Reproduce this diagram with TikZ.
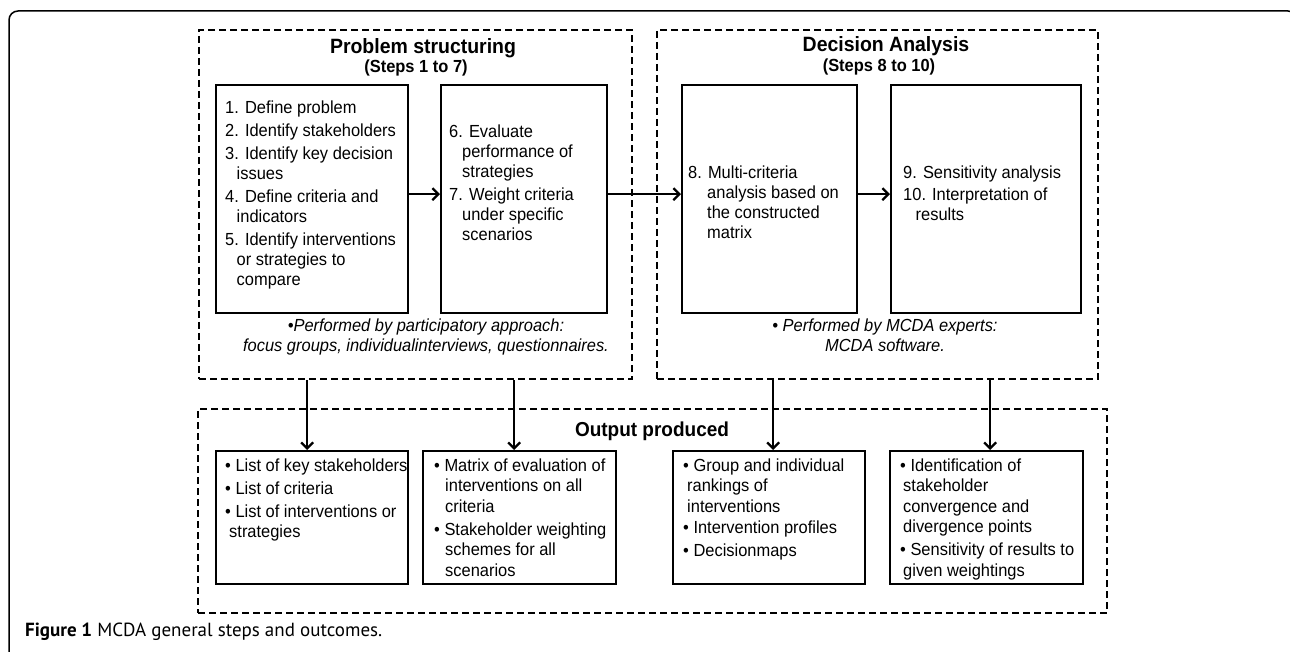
\documentclass[tikz,border=0pt]{standalone}
\usepackage{fontspec}
\setmainfont[FakeStretch=0.94]{Liberation Sans}
\newfontfamily\capfont{PT Sans}
\usetikzlibrary{arrows.meta}

\newcommand\steptext{\fontsize{17.5}{20}\selectfont}
\newcommand\outtext{\fontsize{17.5}{20.5}\selectfont}
\newcommand\steplines[1]{\begin{tabular}[t]{@{}l@{}}#1\end{tabular}}
\newcommand\notelines[1]{\begin{tabular}[t]{@{}c@{}}#1\end{tabular}}

\begin{document}
\begin{tikzpicture}[x=1pt, y=-1pt,
  stepbox/.style={draw, line width=2.3pt, inner sep=0pt, anchor=north west},
  groupbox/.style={draw, line width=2pt, dash pattern=on 7pt off 4pt, inner sep=0pt, anchor=north west},
  flow/.style={line width=2.3pt, -{Straight Barb[length=6pt,width=12pt]}},
  steptxt/.style={anchor=base west, inner sep=0pt, font=\steptext},
  outtxt/.style={anchor=base west, inner sep=0pt, font=\outtext},
  notetxt/.style={anchor=base, inner sep=0pt, font=\steptext\itshape},
  headtxt/.style={anchor=base, inner sep=0pt, font=\fontsize{20.7}{22}\selectfont\bfseries},
  subtxt/.style={anchor=base, inner sep=0pt, font=\fontsize{17.5}{20}\selectfont\bfseries}]
  \useasboundingbox (0,0) rectangle (1290,652);

  % figure frame
  \draw[line width=1.5pt, rounded corners=9pt] (9,700) -- (9,11) -- (1297,11) -- (1297,700);

  % dashed groups
  \node[groupbox, minimum width=433pt, minimum height=349pt] (ps) at (198,29) {};
  \node[groupbox, minimum width=441pt, minimum height=349pt] (da) at (656,29) {};
  \node[groupbox, minimum width=909pt, minimum height=204pt] (out) at (197,408) {};

  \node[headtxt] (pstitle) at (423,54) {Problem structuring};
  \node[subtxt] (pssub) at (416,73) {(Steps 1 to 7)};
  \node[headtxt] (datitle) at (886,52) {Decision Analysis};
  \node[subtxt] (dasub) at (879,72) {(Steps 8 to 10)};
  \node[headtxt, font=\fontsize{20.2}{22}\selectfont\bfseries] (outtitle) at (652,436) {Output produced};

  % step boxes
  \node[stepbox, minimum width=192pt, minimum height=228pt] (s1) at (215,84) {};
  \node[stepbox, minimum width=166pt, minimum height=228pt] (s2) at (440,84) {};
  \node[stepbox, minimum width=175pt, minimum height=228pt] (s3) at (681,84) {};
  \node[stepbox, minimum width=190pt, minimum height=228pt] (s4) at (890,84) {};

  \node[steptxt] (t1) at (225,114) {\steplines{1. Define problem\\[3pt]
    2. Identify stakeholders\\[3pt]
    3. Identify key decision\\ \hspace*{11.5pt}issues\\[3pt]
    4. Define criteria and\\ \hspace*{11.5pt}indicators\\[3pt]
    5. Identify interventions\\ \hspace*{11.5pt}or strategies to\\ \hspace*{11.5pt}compare}};
  \node[steptxt] (t2) at (449,138) {\steplines{6. Evaluate\\ \hspace*{13pt}performance of\\ \hspace*{13pt}strategies\\[3pt]
    7. Weight criteria\\ \hspace*{13pt}under specific\\ \hspace*{13pt}scenarios}};
  \node[steptxt] (t3) at (688,179) {\steplines{8. Multi-criteria\\ \hspace*{19pt}analysis based on\\ \hspace*{19pt}the constructed\\ \hspace*{19pt}matrix}};
  \node[steptxt] (t4) at (903,179) {\steplines{9. Sensitivity analysis\\[2pt]
    10. Interpretation of\\ \hspace*{12.5pt}results}};

  \node[notetxt] (n1) at (426,331) {\notelines{\textbullet Performed by participatory approach:\\ focus groups, individualinterviews, questionnaires.}};
  \node[notetxt] (n2) at (885,331) {\notelines{\textbullet{} Performed by MCDA experts:\\ MCDA software.}};

  % output boxes
  \node[stepbox, minimum width=192pt, minimum height=133pt] (o1) at (215,450) {};
  \node[stepbox, minimum width=193pt, minimum height=133pt] (o2) at (422,450) {};
  \node[stepbox, minimum width=192pt, minimum height=133pt] (o3) at (672,450) {};
  \node[stepbox, minimum width=193pt, minimum height=133pt] (o4) at (889,450) {};

  \node[outtxt] (u1) at (225,471) {\steplines{\textbullet{} List of key stakeholders\\[2.5pt]
    \textbullet{} List of criteria\\[2.5pt]
    \textbullet{} List of interventions or\\ \hspace*{4pt}strategies}};
  \node[outtxt] (u2) at (434,471) {\steplines{\textbullet{} Matrix of evaluation of\\ \hspace*{11pt}interventions on all\\ \hspace*{11pt}criteria\\[2.5pt]
    \textbullet{} Stakeholder weighting\\ \hspace*{11pt}schemes for all\\ \hspace*{11pt}scenarios}};
  \node[outtxt] (u3) at (683,471) {\steplines{\textbullet{} Group and individual\\ \hspace*{4pt}rankings of\\ \hspace*{4pt}interventions\\[1pt]
    \textbullet{} Intervention profiles\\[2pt]
    \textbullet{} Decisionmaps}};
  \node[outtxt] (u4) at (900,471) {\steplines{\textbullet{} Identification of\\ \hspace*{3pt}stakeholder\\ \hspace*{3pt}convergence and\\ \hspace*{3pt}divergence points\\[2.5pt]
    \textbullet{} Sensitivity of results to\\ \hspace*{3pt}given weightings}};

  % arrows
  \draw[flow] ([yshift=5pt]s1.east) -- ([yshift=5pt]s2.west);
  \draw[flow] ([yshift=5pt]s2.east) -- ([yshift=5pt]s3.west);
  \draw[flow] ([yshift=5pt]s3.east) -- ([yshift=5pt]s4.west);

  \coordinate (a1) at ([xshift=-5pt]o1.north);
  \coordinate (a2) at ([xshift=-5.5pt]o2.north);
  \coordinate (a3) at ([xshift=4pt]o3.north);
  \coordinate (a4) at ([xshift=3.5pt]o4.north);
  \draw[flow] (a1 |- ps.south) -- (a1);
  \draw[flow] (a2 |- ps.south) -- (a2);
  \draw[flow] (a3 |- da.south) -- (a3);
  \draw[flow] (a4 |- da.south) -- (a4);

  % caption
  \node[anchor=base west, inner sep=0pt, font=\capfont\fontsize{19}{21}\selectfont] (caption) at (25,636)
    {\textbf{Figure 1} MCDA general steps and outcomes.};
\end{tikzpicture}
\end{document}
